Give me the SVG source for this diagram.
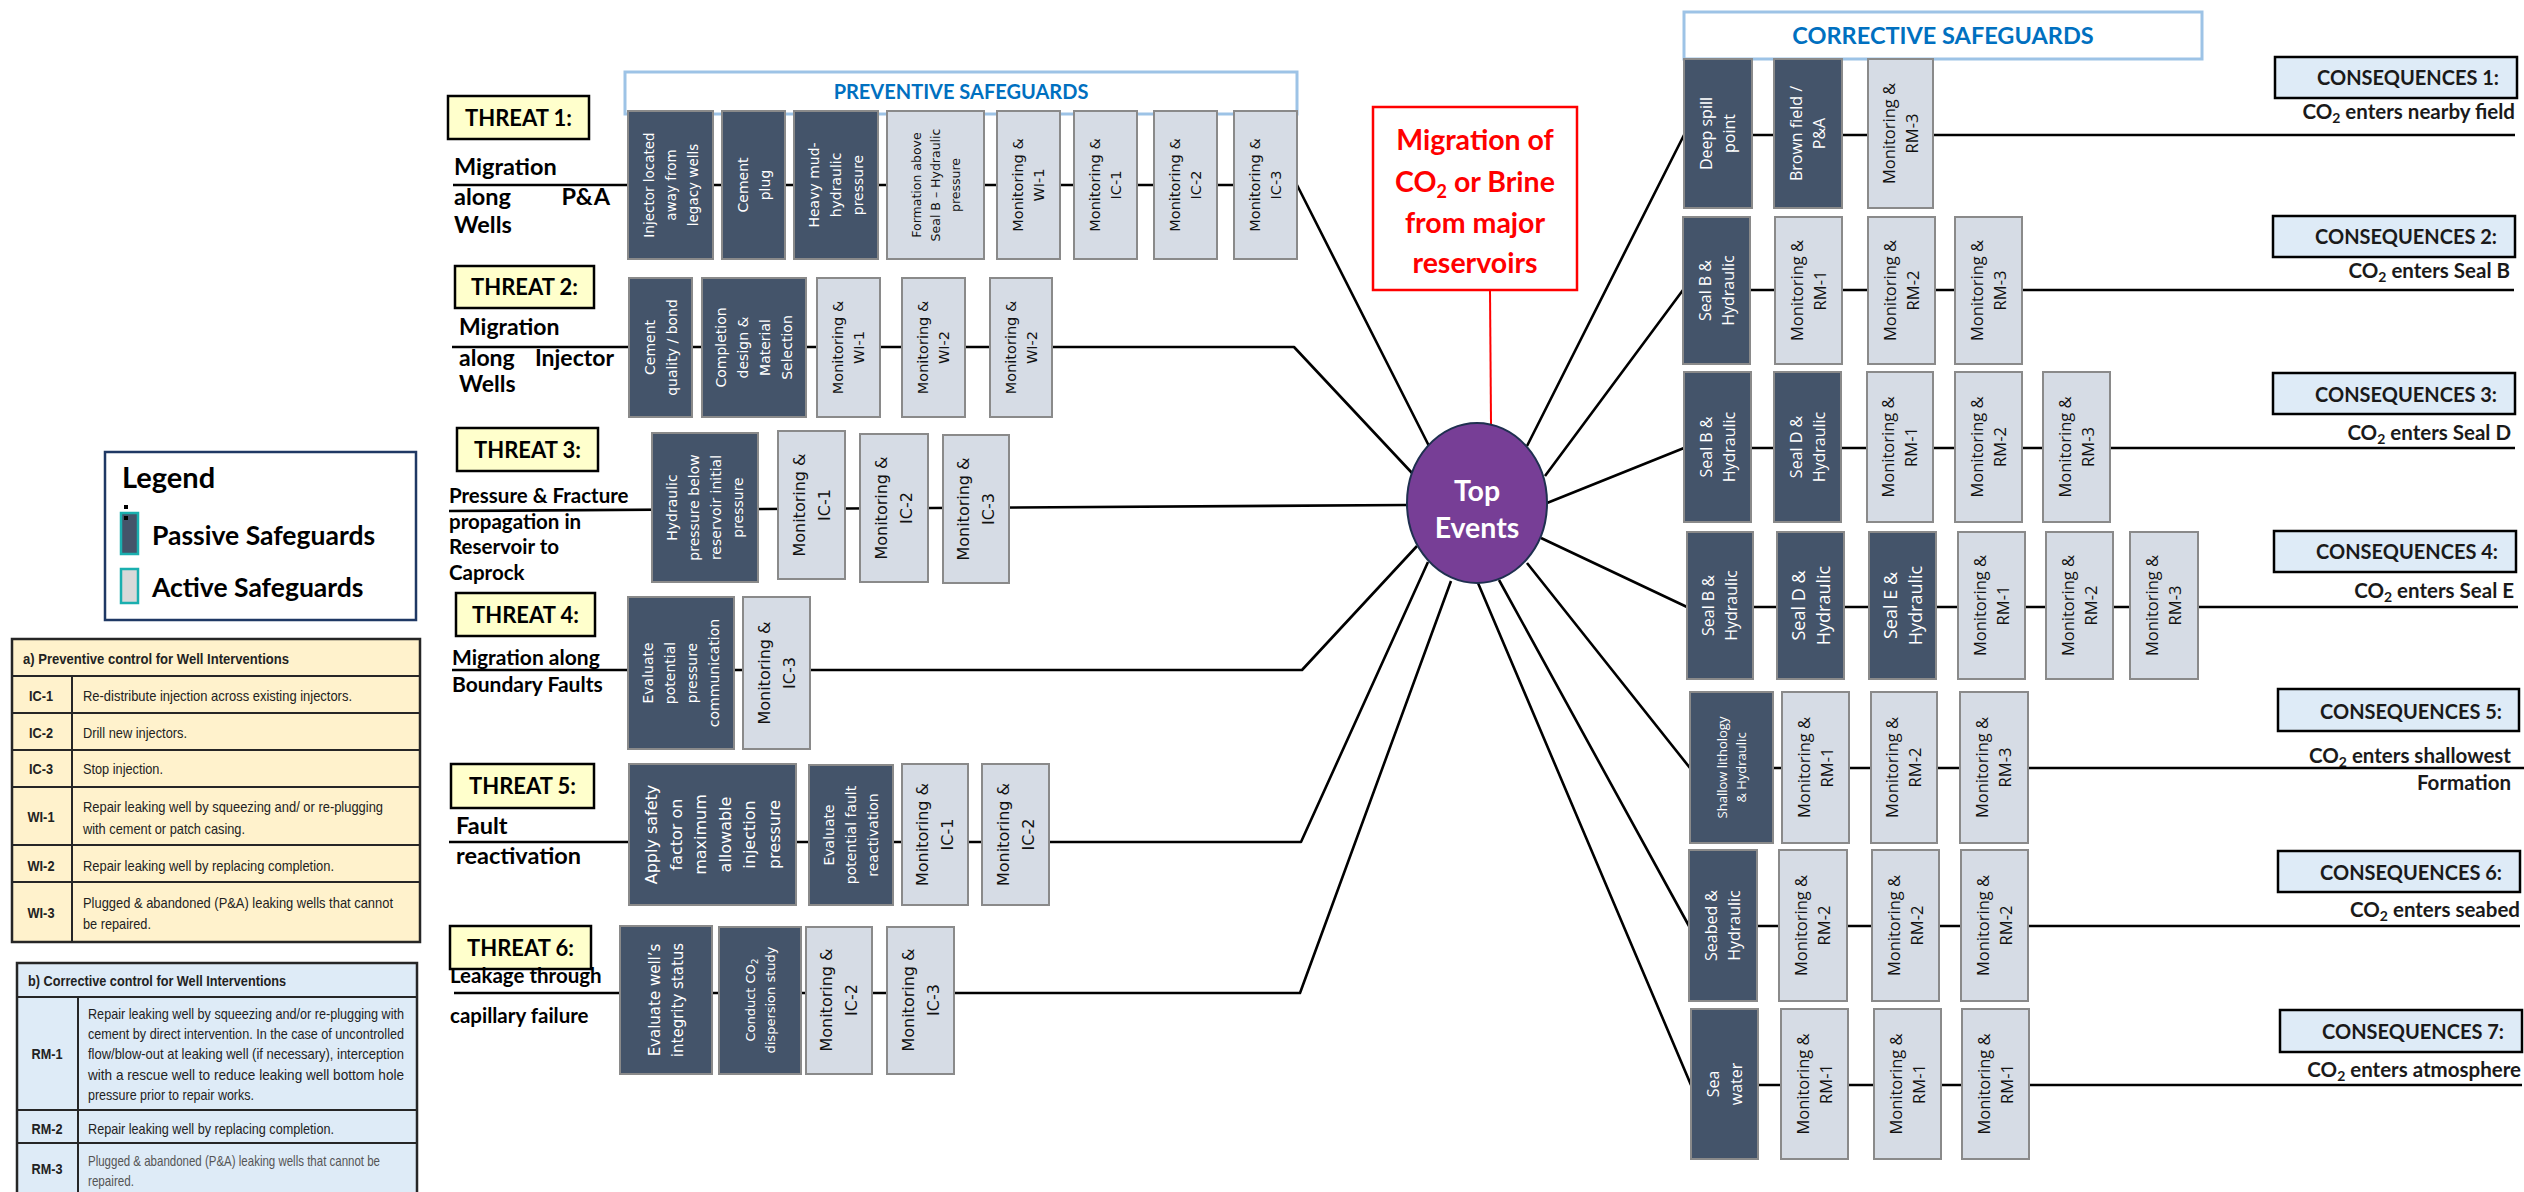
<svg xmlns="http://www.w3.org/2000/svg" width="2524" height="1192" viewBox="0 0 2524 1192">
<style>
.dk{fill:#44546A;stroke:#8A8A8A;stroke-width:2}
.lt{fill:#D6DCE5;stroke:#8A8A8A;stroke-width:2}
.wv{font-family:"DejaVu Sans",sans-serif;fill:#fff;text-anchor:middle}
.bv{font-family:"DejaVu Sans",sans-serif;fill:#111;text-anchor:middle}
.wo{font-family:"Open Sans",sans-serif;fill:#fff;text-anchor:middle}
.bo{font-family:"Open Sans",sans-serif;fill:#111;text-anchor:middle}
.ln{fill:none;stroke:#000;stroke-width:2.6;stroke-linejoin:round}
.thr{fill:#FFFFCC;stroke:#000;stroke-width:2.5}
.thl{font-family:Lato,"Liberation Sans",sans-serif;font-weight:bold;font-size:22px;text-anchor:middle;fill:#000}
.td{font-family:Lato,"Liberation Sans",sans-serif;font-weight:bold;fill:#000}
.cb{fill:#DEEBF7;stroke:#000;stroke-width:2.5}
.ct{font-family:Lato,"Liberation Sans",sans-serif;font-weight:bold;font-size:20px;text-anchor:end;fill:#1a1a1a}
.cs{font-family:Lato,"Liberation Sans",sans-serif;font-weight:bold;font-size:20.5px;text-anchor:end;fill:#1a1a1a}
.hdr{fill:#fff;stroke:#9DC3E6;stroke-width:3}
.hdt{font-family:Lato,"Liberation Sans",sans-serif;font-weight:bold;fill:#0070C0;text-anchor:middle}
.tb{font-family:"Liberation Sans",sans-serif;font-size:15px;fill:#222}
.tbb{font-family:"Liberation Sans",sans-serif;font-size:15px;font-weight:bold;fill:#222}
.tbl{stroke:#262626;stroke-width:2;fill:none}
</style>

<g id="connectors">
<polyline class="ln" points="453,185 1297,185 1429,446"/>
<polyline class="ln" points="452,347 1294,347 1412,473"/>
<polyline class="ln" points="449,511 1407,505"/>
<polyline class="ln" points="452,670 1302,670 1417,546"/>
<polyline class="ln" points="449,842 1301,842 1428,562"/>
<polyline class="ln" points="454,993 1300,993 1451,581"/>
<polyline class="ln" points="1527,446 1684,135 2515,135"/>
<polyline class="ln" points="1545,476 1683,290 2514,290"/>
<polyline class="ln" points="1547,503 1684,448 2515,448"/>
<polyline class="ln" points="1541,538 1687,607 2518,607"/>
<polyline class="ln" points="1527,563 1690,768 2524,768"/>
<polyline class="ln" points="1499,580 1689,926 2520,926"/>
<polyline class="ln" points="1478,583 1691,1085 2522,1085"/>
<line x1="1490" y1="290" x2="1491" y2="424" stroke="#FF0000" stroke-width="2"/>
</g>

<g id="preventive-header">
<rect class="hdr" x="625" y="72" width="672" height="42"/>
<text class="hdt" x="961" y="99" font-size="20">PREVENTIVE SAFEGUARDS</text>
</g>
<g id="corrective-header">
<rect class="hdr" x="1684" y="12" width="518" height="47"/>
<text class="hdt" x="1943" y="43.5" font-size="23.5">CORRECTIVE SAFEGUARDS</text>
</g>

<g id="top-event">
<ellipse cx="1477" cy="503" rx="70" ry="80" fill="#773E96" stroke="#1F3050" stroke-width="2"/>
<text class="td" style="fill:#fff" font-size="28.5" text-anchor="middle"><tspan x="1477" y="501">Top</tspan><tspan x="1477" y="538">Events</tspan></text>
</g>
<g id="hazard">
<rect x="1373" y="107" width="204" height="183" fill="#fff" stroke="#FF0000" stroke-width="2.5"/>
<text class="td" style="fill:#FF0000" font-size="28.5" text-anchor="middle"><tspan x="1475" y="150">Migration of</tspan><tspan x="1475" y="192">CO<tspan font-size="18" dy="6">2</tspan><tspan dy="-6"> or Brine</tspan></tspan><tspan x="1475" y="233">from major</tspan><tspan x="1475" y="273">reservoirs</tspan></text>
</g>

<!-- THREATS -->
<g id="threat1">
<rect class="thr" x="448" y="96" width="141" height="43"/>
<text class="thl" x="518.5" y="125.5">THREAT 1:</text>
<text class="td" font-size="23.5"><tspan x="454" y="175">Migration</tspan><tspan x="454" y="205">along</tspan><tspan x="610" y="205" text-anchor="end">P&amp;A</tspan><tspan x="454" y="233">Wells</tspan></text>
</g>
<g id="threat2">
<rect class="thr" x="455" y="266" width="139" height="42"/>
<text class="thl" x="524.5" y="295">THREAT 2:</text>
<text class="td" font-size="23"><tspan x="459" y="335">Migration</tspan><tspan x="459" y="366">along</tspan><tspan x="614" y="366" text-anchor="end">Injector</tspan><tspan x="459" y="392">Wells</tspan></text>
</g>
<g id="threat3">
<rect class="thr" x="457" y="428" width="141" height="43"/>
<text class="thl" x="527.5" y="457.5">THREAT 3:</text>
<text class="td" font-size="20.5"><tspan x="449" y="503">Pressure &amp; Fracture</tspan><tspan x="449" y="529">propagation in</tspan><tspan x="449" y="554">Reservoir to</tspan><tspan x="449" y="580">Caprock</tspan></text>
</g>
<g id="threat4">
<rect class="thr" x="456" y="593" width="139" height="43"/>
<text class="thl" x="525.5" y="622.5">THREAT 4:</text>
<text class="td" font-size="21"><tspan x="452" y="665">Migration along</tspan><tspan x="452" y="692">Boundary Faults</tspan></text>
</g>
<g id="threat5">
<rect class="thr" x="451" y="764" width="143" height="44"/>
<text class="thl" x="522.5" y="794">THREAT 5:</text>
<text class="td" font-size="23.5"><tspan x="456" y="834">Fault</tspan><tspan x="456" y="864">reactivation</tspan></text>
</g>
<g id="threat6">
<rect class="thr" x="450" y="926" width="141" height="43"/>
<text class="thl" x="520.5" y="955.5">THREAT 6:</text>
<text class="td" font-size="20.5"><tspan x="450" y="983">Leakage through</tspan><tspan x="450" y="1023">capillary failure</tspan></text>
</g>

<!-- Threat 1 safeguards -->
<g id="t1-s1"><rect class="dk" x="628" y="111" width="85" height="148"/><text class="wv" font-size="13.5" transform="translate(670.5 185) rotate(-90)"><tspan x="0" y="-17">Injector located</tspan><tspan x="0" y="5">away from</tspan><tspan x="0" y="27">legacy wells</tspan></text></g>
<g id="t1-s2"><rect class="dk" x="722" y="111" width="63" height="148"/><text class="wv" font-size="14" transform="translate(753.5 185) rotate(-90)"><tspan x="0" y="-6">Cement</tspan><tspan x="0" y="16">plug</tspan></text></g>
<g id="t1-s3"><rect class="dk" x="794" y="111" width="84" height="148"/><text class="wv" font-size="14" transform="translate(836 185) rotate(-90)"><tspan x="0" y="-17">Heavy mud-</tspan><tspan x="0" y="5">hydraulic</tspan><tspan x="0" y="27">pressure</tspan></text></g>
<g id="t1-s4"><rect class="lt" x="887" y="111" width="97" height="148"/><text class="bv" font-size="12.5" transform="translate(935.5 185) rotate(-90)"><tspan x="0" y="-15">Formation above</tspan><tspan x="0" y="4.5">Seal B – Hydraulic</tspan><tspan x="0" y="24">pressure</tspan></text></g>
<g id="t1-s5"><rect class="lt" x="997" y="111" width="63" height="148"/><text class="bv" font-size="14.5" transform="translate(1028.5 185) rotate(-90)"><tspan x="0" y="-5.4">Monitoring &amp;</tspan><tspan x="0" y="15.6">WI-1</tspan></text></g>
<g id="t1-s6"><rect class="lt" x="1074" y="111" width="63" height="148"/><text class="bv" font-size="14.5" transform="translate(1105.5 185) rotate(-90)"><tspan x="0" y="-5.4">Monitoring &amp;</tspan><tspan x="0" y="15.6">IC-1</tspan></text></g>
<g id="t1-s7"><rect class="lt" x="1154" y="111" width="63" height="148"/><text class="bv" font-size="14.5" transform="translate(1185.5 185) rotate(-90)"><tspan x="0" y="-5.4">Monitoring &amp;</tspan><tspan x="0" y="15.6">IC-2</tspan></text></g>
<g id="t1-s8"><rect class="lt" x="1234" y="111" width="63" height="148"/><text class="bv" font-size="14.5" transform="translate(1265.5 185) rotate(-90)"><tspan x="0" y="-5.4">Monitoring &amp;</tspan><tspan x="0" y="15.6">IC-3</tspan></text></g>

<!-- Threat 2 safeguards -->
<g id="t2-s1"><rect class="dk" x="629" y="278" width="63" height="139"/><text class="wv" font-size="14" transform="translate(660.5 347.5) rotate(-90)"><tspan x="0" y="-6">Cement</tspan><tspan x="0" y="16">quality / bond</tspan></text></g>
<g id="t2-s2"><rect class="dk" x="702" y="278" width="104" height="139"/><text class="wv" font-size="14" transform="translate(754 347.5) rotate(-90)"><tspan x="0" y="-28">Completion</tspan><tspan x="0" y="-6">design &amp;</tspan><tspan x="0" y="16">Material</tspan><tspan x="0" y="38">Selection</tspan></text></g>
<g id="t2-s3"><rect class="lt" x="817" y="278" width="63" height="139"/><text class="bv" font-size="14.5" transform="translate(848.5 347.5) rotate(-90)"><tspan x="0" y="-5.4">Monitoring &amp;</tspan><tspan x="0" y="15.6">WI-1</tspan></text></g>
<g id="t2-s4"><rect class="lt" x="902" y="278" width="63" height="139"/><text class="bv" font-size="14.5" transform="translate(933.5 347.5) rotate(-90)"><tspan x="0" y="-5.4">Monitoring &amp;</tspan><tspan x="0" y="15.6">WI-2</tspan></text></g>
<g id="t2-s5"><rect class="lt" x="990" y="278" width="62" height="139"/><text class="bv" font-size="14.5" transform="translate(1021 347.5) rotate(-90)"><tspan x="0" y="-5.4">Monitoring &amp;</tspan><tspan x="0" y="15.6">WI-2</tspan></text></g>

<!-- Threat 3 safeguards -->
<g id="t3-s1"><rect class="dk" x="652" y="433" width="106" height="149"/><text class="wv" font-size="14" transform="translate(705 507.5) rotate(-90)"><tspan x="0" y="-28">Hydraulic</tspan><tspan x="0" y="-6">pressure below</tspan><tspan x="0" y="16">reservoir initial</tspan><tspan x="0" y="38">pressure</tspan></text></g>
<g id="t3-s2"><rect class="lt" x="778" y="431" width="67" height="148"/><text class="bv" font-size="16" transform="translate(811.5 505) rotate(-90)"><tspan x="0" y="-6.7">Monitoring &amp;</tspan><tspan x="0" y="18.3">IC-1</tspan></text></g>
<g id="t3-s3"><rect class="lt" x="860" y="434" width="68" height="148"/><text class="bv" font-size="16" transform="translate(894 508) rotate(-90)"><tspan x="0" y="-6.7">Monitoring &amp;</tspan><tspan x="0" y="18.3">IC-2</tspan></text></g>
<g id="t3-s4"><rect class="lt" x="943" y="435" width="66" height="148"/><text class="bv" font-size="16" transform="translate(976 509) rotate(-90)"><tspan x="0" y="-6.7">Monitoring &amp;</tspan><tspan x="0" y="18.3">IC-3</tspan></text></g>

<!-- Threat 4 safeguards -->
<g id="t4-s1"><rect class="dk" x="628" y="597" width="106" height="152"/><text class="wv" font-size="14" transform="translate(681 673) rotate(-90)"><tspan x="0" y="-28">Evaluate</tspan><tspan x="0" y="-6">potential</tspan><tspan x="0" y="16">pressure</tspan><tspan x="0" y="38">communication</tspan></text></g>
<g id="t4-s2"><rect class="lt" x="743" y="597" width="67" height="152"/><text class="bv" font-size="16" transform="translate(776.5 673) rotate(-90)"><tspan x="0" y="-6.7">Monitoring &amp;</tspan><tspan x="0" y="18.3">IC-3</tspan></text></g>

<!-- Threat 5 safeguards -->
<g id="t5-s1"><rect class="dk" x="629" y="764" width="167" height="141"/><text class="wv" font-size="16" transform="translate(712.5 834.5) rotate(-90)"><tspan x="0" y="-55.5">Apply safety</tspan><tspan x="0" y="-31">factor on</tspan><tspan x="0" y="-6.5">maximum</tspan><tspan x="0" y="18">allowable</tspan><tspan x="0" y="42.5">injection</tspan><tspan x="0" y="67">pressure</tspan></text></g>
<g id="t5-s2"><rect class="dk" x="809" y="765" width="84" height="140"/><text class="wv" font-size="14" transform="translate(851 835) rotate(-90)"><tspan x="0" y="-17">Evaluate</tspan><tspan x="0" y="5">potential fault</tspan><tspan x="0" y="27">reactivation</tspan></text></g>
<g id="t5-s3"><rect class="lt" x="902" y="764" width="66" height="141"/><text class="bv" font-size="16" transform="translate(935 834.5) rotate(-90)"><tspan x="0" y="-6.7">Monitoring &amp;</tspan><tspan x="0" y="18.3">IC-1</tspan></text></g>
<g id="t5-s4"><rect class="lt" x="982" y="764" width="67" height="141"/><text class="bv" font-size="16" transform="translate(1015.5 834.5) rotate(-90)"><tspan x="0" y="-6.7">Monitoring &amp;</tspan><tspan x="0" y="18.3">IC-2</tspan></text></g>

<!-- Threat 6 safeguards -->
<g id="t6-s1"><rect class="dk" x="620" y="926" width="92" height="148"/><text class="wv" font-size="15" transform="translate(666 1000) rotate(-90)"><tspan x="0" y="-6.1">Evaluate well’s</tspan><tspan x="0" y="16.9">integrity status</tspan></text></g>
<g id="t6-s2"><rect class="dk" x="719" y="927" width="82" height="147"/><text class="wv" font-size="13" transform="translate(760 1000) rotate(-90)"><tspan x="0" y="-5.3">Conduct CO<tspan font-size="9" dy="3">2</tspan></tspan><tspan x="0" y="14.7">dispersion study</tspan></text></g>
<g id="t6-s3"><rect class="lt" x="806" y="927" width="66" height="147"/><text class="bv" font-size="16" transform="translate(839 1000) rotate(-90)"><tspan x="0" y="-6.7">Monitoring &amp;</tspan><tspan x="0" y="18.3">IC-2</tspan></text></g>
<g id="t6-s4"><rect class="lt" x="887" y="927" width="67" height="147"/><text class="bv" font-size="16" transform="translate(920.5 1000) rotate(-90)"><tspan x="0" y="-6.7">Monitoring &amp;</tspan><tspan x="0" y="18.3">IC-3</tspan></text></g>

<!-- Corrective row 1 -->
<g id="r1-s1"><rect class="dk" x="1684" y="59" width="68" height="149"/><text class="wo" font-size="16" transform="translate(1718 133.5) rotate(-90)"><tspan x="0" y="-5.7">Deep spill</tspan><tspan x="0" y="17.3">point</tspan></text></g>
<g id="r1-s2"><rect class="dk" x="1774" y="59" width="68" height="149"/><text class="wo" font-size="16" transform="translate(1808 133.5) rotate(-90)"><tspan x="0" y="-5.7">Brown field /</tspan><tspan x="0" y="17.3">P&amp;A</tspan></text></g>
<g id="r1-s3"><rect class="lt" x="1868" y="59" width="65" height="149"/><text class="bo" font-size="16.5" transform="translate(1900.5 133.5) rotate(-90)"><tspan x="0" y="-5.6">Monitoring &amp;</tspan><tspan x="0" y="17.4">RM-3</tspan></text></g>
<!-- row 2 -->
<g id="r2-s1"><rect class="dk" x="1683" y="217" width="67" height="147"/><text class="wo" font-size="16" transform="translate(1716.5 290.5) rotate(-90)"><tspan x="0" y="-5.7">Seal B &amp;</tspan><tspan x="0" y="17.3">Hydraulic</tspan></text></g>
<g id="r2-s2"><rect class="lt" x="1775" y="217" width="67" height="147"/><text class="bo" font-size="16.5" transform="translate(1808.5 290.5) rotate(-90)"><tspan x="0" y="-5.6">Monitoring &amp;</tspan><tspan x="0" y="17.4">RM-1</tspan></text></g>
<g id="r2-s3"><rect class="lt" x="1868" y="217" width="67" height="147"/><text class="bo" font-size="16.5" transform="translate(1901.5 290.5) rotate(-90)"><tspan x="0" y="-5.6">Monitoring &amp;</tspan><tspan x="0" y="17.4">RM-2</tspan></text></g>
<g id="r2-s4"><rect class="lt" x="1955" y="217" width="67" height="147"/><text class="bo" font-size="16.5" transform="translate(1988.5 290.5) rotate(-90)"><tspan x="0" y="-5.6">Monitoring &amp;</tspan><tspan x="0" y="17.4">RM-3</tspan></text></g>
<!-- row 3 -->
<g id="r3-s1"><rect class="dk" x="1684" y="372" width="67" height="150"/><text class="wo" font-size="16" transform="translate(1717.5 447) rotate(-90)"><tspan x="0" y="-5.7">Seal B &amp;</tspan><tspan x="0" y="17.3">Hydraulic</tspan></text></g>
<g id="r3-s2"><rect class="dk" x="1774" y="372" width="67" height="150"/><text class="wo" font-size="16" transform="translate(1807.5 447) rotate(-90)"><tspan x="0" y="-5.7">Seal D &amp;</tspan><tspan x="0" y="17.3">Hydraulic</tspan></text></g>
<g id="r3-s3"><rect class="lt" x="1867" y="372" width="66" height="150"/><text class="bo" font-size="16.5" transform="translate(1900 447) rotate(-90)"><tspan x="0" y="-5.6">Monitoring &amp;</tspan><tspan x="0" y="17.4">RM-1</tspan></text></g>
<g id="r3-s4"><rect class="lt" x="1955" y="372" width="67" height="150"/><text class="bo" font-size="16.5" transform="translate(1988.5 447) rotate(-90)"><tspan x="0" y="-5.6">Monitoring &amp;</tspan><tspan x="0" y="17.4">RM-2</tspan></text></g>
<g id="r3-s5"><rect class="lt" x="2043" y="372" width="67" height="150"/><text class="bo" font-size="16.5" transform="translate(2076.5 447) rotate(-90)"><tspan x="0" y="-5.6">Monitoring &amp;</tspan><tspan x="0" y="17.4">RM-3</tspan></text></g>
<!-- row 4 -->
<g id="r4-s1"><rect class="dk" x="1687" y="532" width="66" height="147"/><text class="wo" font-size="16" transform="translate(1720 605.5) rotate(-90)"><tspan x="0" y="-5.7">Seal B &amp;</tspan><tspan x="0" y="17.3">Hydraulic</tspan></text></g>
<g id="r4-s2"><rect class="dk" x="1777" y="532" width="67" height="147"/><text class="wo" font-size="18" transform="translate(1810.5 605.5) rotate(-90)"><tspan x="0" y="-6">Seal D &amp;</tspan><tspan x="0" y="19">Hydraulic</tspan></text></g>
<g id="r4-s3"><rect class="dk" x="1869" y="532" width="67" height="147"/><text class="wo" font-size="18" transform="translate(1902.5 605.5) rotate(-90)"><tspan x="0" y="-6">Seal E &amp;</tspan><tspan x="0" y="19">Hydraulic</tspan></text></g>
<g id="r4-s4"><rect class="lt" x="1958" y="532" width="67" height="147"/><text class="bo" font-size="16.5" transform="translate(1991.5 605.5) rotate(-90)"><tspan x="0" y="-5.6">Monitoring &amp;</tspan><tspan x="0" y="17.4">RM-1</tspan></text></g>
<g id="r4-s5"><rect class="lt" x="2046" y="532" width="67" height="147"/><text class="bo" font-size="16.5" transform="translate(2079.5 605.5) rotate(-90)"><tspan x="0" y="-5.6">Monitoring &amp;</tspan><tspan x="0" y="17.4">RM-2</tspan></text></g>
<g id="r4-s6"><rect class="lt" x="2130" y="532" width="68" height="147"/><text class="bo" font-size="16.5" transform="translate(2164 605.5) rotate(-90)"><tspan x="0" y="-5.6">Monitoring &amp;</tspan><tspan x="0" y="17.4">RM-3</tspan></text></g>
<!-- row 5 -->
<g id="r5-s1"><rect class="dk" x="1690" y="692" width="83" height="151"/><text class="wo" font-size="13" transform="translate(1731.5 767.5) rotate(-90)"><tspan x="0" y="-4.8">Shallow lithology</tspan><tspan x="0" y="14.2">&amp; Hydraulic</tspan></text></g>
<g id="r5-s2"><rect class="lt" x="1782" y="692" width="67" height="151"/><text class="bo" font-size="16.5" transform="translate(1815.5 767.5) rotate(-90)"><tspan x="0" y="-5.6">Monitoring &amp;</tspan><tspan x="0" y="17.4">RM-1</tspan></text></g>
<g id="r5-s3"><rect class="lt" x="1871" y="692" width="66" height="151"/><text class="bo" font-size="16.5" transform="translate(1904 767.5) rotate(-90)"><tspan x="0" y="-5.6">Monitoring &amp;</tspan><tspan x="0" y="17.4">RM-2</tspan></text></g>
<g id="r5-s4"><rect class="lt" x="1960" y="692" width="68" height="151"/><text class="bo" font-size="16.5" transform="translate(1994 767.5) rotate(-90)"><tspan x="0" y="-5.6">Monitoring &amp;</tspan><tspan x="0" y="17.4">RM-3</tspan></text></g>
<!-- row 6 -->
<g id="r6-s1"><rect class="dk" x="1689" y="850" width="68" height="151"/><text class="wo" font-size="16" transform="translate(1723 925.5) rotate(-90)"><tspan x="0" y="-5.7">Seabed &amp;</tspan><tspan x="0" y="17.3">Hydraulic</tspan></text></g>
<g id="r6-s2"><rect class="lt" x="1779" y="850" width="68" height="151"/><text class="bo" font-size="16.5" transform="translate(1813 925.5) rotate(-90)"><tspan x="0" y="-5.6">Monitoring &amp;</tspan><tspan x="0" y="17.4">RM-2</tspan></text></g>
<g id="r6-s3"><rect class="lt" x="1872" y="850" width="67" height="151"/><text class="bo" font-size="16.5" transform="translate(1905.5 925.5) rotate(-90)"><tspan x="0" y="-5.6">Monitoring &amp;</tspan><tspan x="0" y="17.4">RM-2</tspan></text></g>
<g id="r6-s4"><rect class="lt" x="1961" y="850" width="67" height="151"/><text class="bo" font-size="16.5" transform="translate(1994.5 925.5) rotate(-90)"><tspan x="0" y="-5.6">Monitoring &amp;</tspan><tspan x="0" y="17.4">RM-2</tspan></text></g>
<!-- row 7 -->
<g id="r7-s1"><rect class="dk" x="1691" y="1009" width="67" height="150"/><text class="wo" font-size="16" transform="translate(1724.5 1084) rotate(-90)"><tspan x="0" y="-5.7">Sea</tspan><tspan x="0" y="17.3">water</tspan></text></g>
<g id="r7-s2"><rect class="lt" x="1781" y="1009" width="67" height="150"/><text class="bo" font-size="16.5" transform="translate(1814.5 1084) rotate(-90)"><tspan x="0" y="-5.6">Monitoring &amp;</tspan><tspan x="0" y="17.4">RM-1</tspan></text></g>
<g id="r7-s3"><rect class="lt" x="1874" y="1009" width="67" height="150"/><text class="bo" font-size="16.5" transform="translate(1907.5 1084) rotate(-90)"><tspan x="0" y="-5.6">Monitoring &amp;</tspan><tspan x="0" y="17.4">RM-1</tspan></text></g>
<g id="r7-s4"><rect class="lt" x="1962" y="1009" width="67" height="150"/><text class="bo" font-size="16.5" transform="translate(1995.5 1084) rotate(-90)"><tspan x="0" y="-5.6">Monitoring &amp;</tspan><tspan x="0" y="17.4">RM-1</tspan></text></g>

<!-- CONSEQUENCES -->
<g id="cons1"><rect class="cb" x="2275" y="57" width="242" height="41"/><text class="ct" x="2499" y="85">CONSEQUENCES 1:</text><text class="cs" x="2515" y="119">CO<tspan font-size="14" dy="4">2</tspan><tspan dy="-4"> enters nearby field</tspan></text></g>
<g id="cons2"><rect class="cb" x="2273" y="216" width="242" height="41"/><text class="ct" x="2497" y="244">CONSEQUENCES 2:</text><text class="cs" x="2510" y="278">CO<tspan font-size="14" dy="4">2</tspan><tspan dy="-4"> enters Seal B</tspan></text></g>
<g id="cons3"><rect class="cb" x="2273" y="373" width="242" height="41"/><text class="ct" x="2497" y="402">CONSEQUENCES 3:</text><text class="cs" x="2511" y="440">CO<tspan font-size="14" dy="4">2</tspan><tspan dy="-4"> enters Seal D</tspan></text></g>
<g id="cons4"><rect class="cb" x="2274" y="531" width="242" height="41"/><text class="ct" x="2498" y="559">CONSEQUENCES 4:</text><text class="cs" x="2514" y="598">CO<tspan font-size="14" dy="4">2</tspan><tspan dy="-4"> enters Seal E</tspan></text></g>
<g id="cons5"><rect class="cb" x="2278" y="689" width="241" height="42"/><text class="ct" x="2502" y="719">CONSEQUENCES 5:</text><text class="cs" x="2511" y="763">CO<tspan font-size="14" dy="4">2</tspan><tspan dy="-4"> enters shallowest</tspan></text><text class="cs" x="2511" y="790">Formation</text></g>
<g id="cons6"><rect class="cb" x="2278" y="851" width="242" height="41"/><text class="ct" x="2502" y="880">CONSEQUENCES 6:</text><text class="cs" x="2520" y="917">CO<tspan font-size="14" dy="4">2</tspan><tspan dy="-4"> enters seabed</tspan></text></g>
<g id="cons7"><rect class="cb" x="2280" y="1010" width="242" height="42"/><text class="ct" x="2504" y="1039">CONSEQUENCES 7:</text><text class="cs" x="2521" y="1077">CO<tspan font-size="14" dy="4">2</tspan><tspan dy="-4"> enters atmosphere</tspan></text></g>

<!-- LEGEND -->
<g id="legend">
<rect x="105" y="452" width="311" height="168" fill="#fff" stroke="#1F3864" stroke-width="2.5"/>
<text class="td" x="122" y="487.5" font-size="29">Legend</text>
<rect x="124" y="505" width="4" height="4" fill="#000"/>
<rect x="121" y="513" width="17" height="41" fill="#44546A" stroke="#1AAFAF" stroke-width="2.5"/>
<rect x="124" y="516" width="4" height="4" fill="#000"/>
<text class="td" x="152" y="544.5" font-size="26.5">Passive Safeguards</text>
<rect x="121" y="569" width="17" height="34" fill="#D9D9D9" stroke="#1AAFAF" stroke-width="2.5"/>
<text class="td" x="152" y="596.5" font-size="26.5">Active Safeguards</text>
</g>

<!-- TABLE A -->
<g id="table-a">
<rect x="12" y="639" width="408" height="303" fill="#FFF2CC" stroke="#262626" stroke-width="2.5"/>
<path class="tbl" d="M12 676H420M12 713H420M12 750H420M12 787H420M12 845H420M12 882H420M72 676V942"/>
<text class="tbb" x="23" y="663.5" textLength="266" lengthAdjust="spacingAndGlyphs">a) Preventive control for Well Interventions</text>
<text class="tbb" x="41" y="700.5" text-anchor="middle" textLength="24" lengthAdjust="spacingAndGlyphs">IC-1</text>
<text class="tb" x="83" y="700.5" textLength="269" lengthAdjust="spacingAndGlyphs">Re-distribute injection across existing injectors.</text>
<text class="tbb" x="41" y="737.5" text-anchor="middle" textLength="24" lengthAdjust="spacingAndGlyphs">IC-2</text>
<text class="tb" x="83" y="737.5" textLength="104" lengthAdjust="spacingAndGlyphs">Drill new injectors.</text>
<text class="tbb" x="41" y="773.5" text-anchor="middle" textLength="24" lengthAdjust="spacingAndGlyphs">IC-3</text>
<text class="tb" x="83" y="773.5" textLength="80" lengthAdjust="spacingAndGlyphs">Stop injection.</text>
<text class="tbb" x="41" y="821.5" text-anchor="middle" textLength="27" lengthAdjust="spacingAndGlyphs">WI-1</text>
<text class="tb" x="83" y="811.5" textLength="300" lengthAdjust="spacingAndGlyphs">Repair leaking well by squeezing and/ or re-plugging</text>
<text class="tb" x="83" y="833.5" textLength="162" lengthAdjust="spacingAndGlyphs">with cement or patch casing.</text>
<text class="tbb" x="41" y="870.5" text-anchor="middle" textLength="27" lengthAdjust="spacingAndGlyphs">WI-2</text>
<text class="tb" x="83" y="870.5" textLength="251" lengthAdjust="spacingAndGlyphs">Repair leaking well by replacing completion.</text>
<text class="tbb" x="41" y="917.5" text-anchor="middle" textLength="27" lengthAdjust="spacingAndGlyphs">WI-3</text>
<text class="tb" x="83" y="907.5" textLength="310" lengthAdjust="spacingAndGlyphs">Plugged &amp; abandoned (P&amp;A) leaking wells that cannot</text>
<text class="tb" x="83" y="928.5" textLength="68" lengthAdjust="spacingAndGlyphs">be repaired.</text>
</g>

<!-- TABLE B -->
<g id="table-b">
<rect x="17" y="963" width="400" height="235" fill="#DEEBF7" stroke="#262626" stroke-width="2.5"/>
<path class="tbl" d="M17 997H417M17 1110H417M17 1143H417M78 997V1198"/>
<text class="tbb" x="28" y="985.5" textLength="258" lengthAdjust="spacingAndGlyphs">b) Corrective control for Well Interventions</text>
<text class="tbb" x="47" y="1058.5" text-anchor="middle" textLength="31" lengthAdjust="spacingAndGlyphs">RM-1</text>
<text class="tb" x="88" y="1018.5" textLength="316" lengthAdjust="spacingAndGlyphs">Repair leaking well by squeezing and/or re-plugging with</text>
<text class="tb" x="88" y="1038.5" textLength="316" lengthAdjust="spacingAndGlyphs">cement by direct intervention. In the case of uncontrolled</text>
<text class="tb" x="88" y="1058.5" textLength="316" lengthAdjust="spacingAndGlyphs">flow/blow-out at leaking well (if necessary), interception</text>
<text class="tb" x="88" y="1079.5" textLength="316" lengthAdjust="spacingAndGlyphs">with a rescue well to reduce leaking well bottom hole</text>
<text class="tb" x="88" y="1099.5" textLength="166" lengthAdjust="spacingAndGlyphs">pressure prior to repair works.</text>
<text class="tbb" x="47" y="1133.5" text-anchor="middle" textLength="31" lengthAdjust="spacingAndGlyphs">RM-2</text>
<text class="tb" x="88" y="1133.5" textLength="246" lengthAdjust="spacingAndGlyphs">Repair leaking well by replacing completion.</text>
<text class="tbb" x="47" y="1173.5" text-anchor="middle" textLength="31" lengthAdjust="spacingAndGlyphs">RM-3</text>
<text class="tb" x="88" y="1165.5" style="fill:#555" textLength="292" lengthAdjust="spacingAndGlyphs">Plugged &amp; abandoned (P&amp;A) leaking wells that cannot be</text>
<text class="tb" x="88" y="1185.5" style="fill:#555" textLength="46" lengthAdjust="spacingAndGlyphs">repaired.</text>
</g>
</svg>
